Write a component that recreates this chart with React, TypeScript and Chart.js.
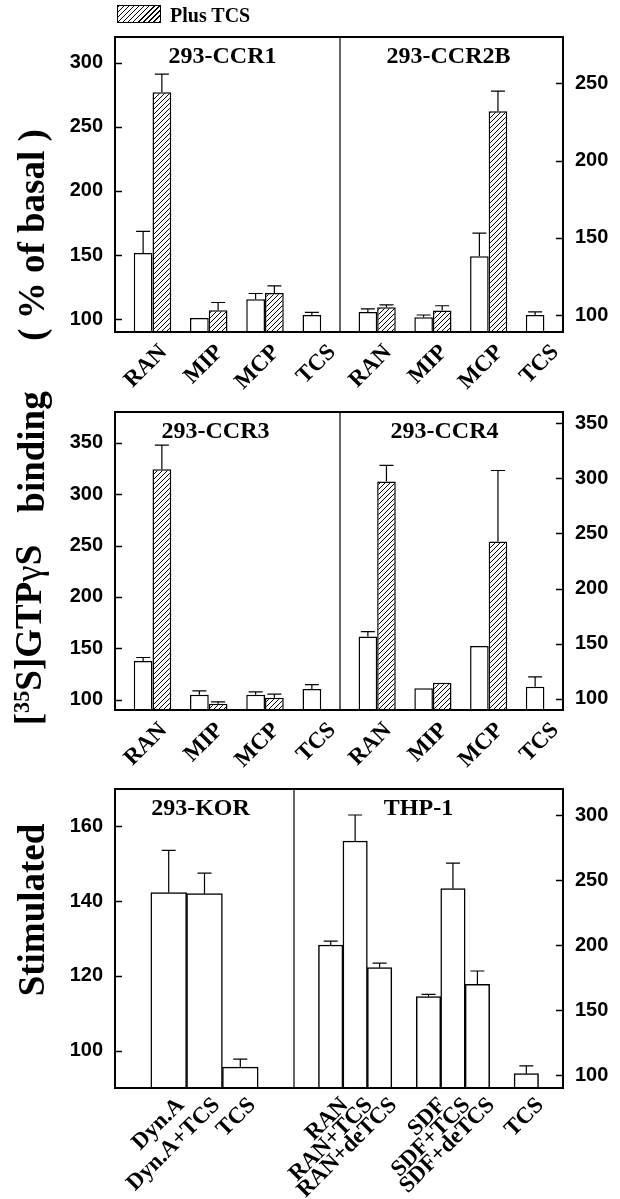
import React, { useEffect, useRef } from 'react';
import { Chart, registerables } from 'chart.js';

Chart.register(...registerables);

// ---------------- DATA ----------------
const GROUP_CATEGORIES = ['RAN', 'MIP', 'MCP', 'TCS'];

const CCR1_BASAL = [151.5, 101, 115.5, 103.3];
const CCR1_BASAL_ERR = [17, 0, 4.5, 2];
const CCR1_TCS = [277, 107, 120.5, null];
const CCR1_TCS_ERR = [14, 6, 5.5, null];

const CCR2B_BASAL = [102, 98.5, 138, 100];
const CCR2B_BASAL_ERR = [2, 1.5, 15, 2];
const CCR2B_TCS = [105, 103, 232, null];
const CCR2B_TCS_ERR = [1.5, 3, 13, null];

const CCR3_BASAL = [137.6, 104.8, 104.8, 110.5];
const CCR3_BASAL_ERR = [3.5, 3.8, 2.9, 4.2];
const CCR3_TCS = [324.4, 96.2, 102, null];
const CCR3_TCS_ERR = [23.3, 1.8, 3.4, null];

const CCR4_BASAL = [156.6, 109.8, 148, 111];
const CCR4_BASAL_ERR = [4.4, 0, 0, 9];
const CCR4_TCS = [297, 114.8, 242.6, null];
const CCR4_TCS_ERR = [14.7, 0, 64.4, null];

const KOR_CATEGORIES = ['Dyn.A', 'Dyn.A+TCS', 'TCS'];
const KOR_VALUES = [142.3, 142, 95.6];
const KOR_ERR = [11.3, 5.5, 2.1];

const THP_CATEGORIES = ['RAN', 'RAN+TCS', 'RAN+deTCS', '', 'SDF', 'SDF+TCS', 'SDF+deTCS', '', 'TCS'];
const THP_VALUES = [200, 280, 182.6, null, 160.3, 243.4, 169.7, null, 101];
const THP_ERR = [3, 20, 3.4, null, 1.7, 19.6, 10.3, null, 6];

// y-axis tick labels and ranges
const CCR1_TICKS = [100, 150, 200, 250, 300];
const CCR1_RANGE = [90, 320];
const CCR2B_TICKS = [100, 150, 200, 250];
const CCR2B_RANGE = [89, 280];
const CCR3_TICKS = [100, 150, 200, 250, 300, 350];
const CCR3_RANGE = [90, 380];
const CCR4_TICKS = [100, 150, 200, 250, 300, 350];
const CCR4_RANGE = [90, 360];
const KOR_TICKS = [100, 120, 140, 160];
const KOR_RANGE = [90, 170];
const THP_TICKS = [100, 150, 200, 250, 300];
const THP_RANGE = [90, 320];

const PANEL_TITLES = ['293-CCR1', '293-CCR2B', '293-CCR3', '293-CCR4', '293-KOR', 'THP-1'];
const LEGEND_LABEL = 'Plus TCS';

// ---------------- LAYOUT / STYLE ----------------
const PAGE_W = 620;
const PAGE_H = 1199;
const FRAME_L = 115;
const FRAME_R = 563;
const SERIF = '"Liberation Serif", "Times New Roman", serif';
const SANS = '"Liberation Sans", Arial, sans-serif';

function makePattern(ctx) {
  const s = 5;
  const c = document.createElement('canvas');
  c.width = s;
  c.height = s;
  const g = c.getContext('2d');
  g.fillStyle = '#fff';
  g.fillRect(0, 0, s, s);
  g.strokeStyle = '#000';
  g.lineWidth = 1;
  g.beginPath();
  g.moveTo(-1, s + 1);
  g.lineTo(s + 1, -1);
  g.moveTo(-1, 1);
  g.lineTo(1, -1);
  g.moveTo(s - 1, s + 1);
  g.lineTo(s + 1, s - 1);
  g.stroke();
  return ctx.createPattern(c, 'repeat');
}

const decorPlugin = {
  id: 'decor',
  afterDatasetsDraw(chart) {
    const cfg = chart.options.plugins.decor;
    const { ctx, chartArea: a } = chart;
    const y = chart.scales.y;
    ctx.save();
    // error bars
    ctx.strokeStyle = '#000';
    ctx.lineWidth = 1.2;
    chart.data.datasets.forEach((ds, di) => {
      const meta = chart.getDatasetMeta(di);
      meta.data.forEach((bar, i) => {
        const v = ds.data[i].y;
        const e = ds.errors[i];
        if (v == null || !e) return;
        const top = y.getPixelForValue(v + e);
        ctx.beginPath();
        ctx.moveTo(bar.x, bar.y);
        ctx.lineTo(bar.x, top);
        ctx.moveTo(bar.x - 7, top);
        ctx.lineTo(bar.x + 7, top);
        ctx.stroke();
      });
    });
    // frame
    ctx.lineCap = 'square';
    ctx.lineWidth = 2;
    ctx.beginPath();
    if (cfg.side === 'left') {
      ctx.moveTo(a.right, a.top);
      ctx.lineTo(a.left, a.top);
      ctx.lineTo(a.left, a.bottom);
      ctx.lineTo(a.right, a.bottom);
    } else {
      ctx.moveTo(a.left, a.top);
      ctx.lineTo(a.right, a.top);
      ctx.lineTo(a.right, a.bottom);
      ctx.lineTo(a.left, a.bottom);
    }
    ctx.stroke();
    if (cfg.side === 'left') {
      ctx.lineCap = 'butt';
      ctx.lineWidth = 1.2;
      ctx.beginPath();
      ctx.moveTo(a.right, a.top);
      ctx.lineTo(a.right, a.bottom);
      ctx.stroke();
    }
    // inward ticks
    ctx.lineCap = 'butt';
    ctx.lineWidth = 1.5;
    cfg.yTicks.forEach((t) => {
      const py = Math.round(y.getPixelForValue(t)) + 0.5;
      ctx.beginPath();
      if (cfg.side === 'left') {
        ctx.moveTo(a.left, py);
        ctx.lineTo(a.left + 7, py);
      } else {
        ctx.moveTo(a.right - 7, py);
        ctx.lineTo(a.right, py);
      }
      ctx.stroke();
    });
    // panel title
    ctx.fillStyle = '#000';
    ctx.font = 'bold 24px ' + SERIF;
    ctx.textAlign = 'center';
    ctx.textBaseline = 'alphabetic';
    ctx.fillText(cfg.title, (a.left + a.right) / 2 + cfg.titleDx, a.top + 26);
    ctx.restore();
  },
};

function Panel({ cfg }) {
  const ref = useRef(null);
  const isLeft = cfg.side === 'left';
  const padL = isLeft ? 0 : 60;
  const padR = isLeft ? 20 : 0;
  const yAxisW = isLeft ? cfg.frameLeft : PAGE_W - cfg.frameRight;
  const canvasLeft = isLeft ? 0 : cfg.frameLeft - padL;
  const canvasWidth = isLeft ? cfg.frameRight + padR : PAGE_W - canvasLeft;
  const canvasTop = cfg.frameTop - 20;
  const canvasHeight = cfg.frameBottom - cfg.frameTop + 20 + cfg.xAxisH;

  useEffect(() => {
    const canvas = ref.current;
    const ctx = canvas.getContext('2d');
    const pattern = makePattern(ctx);
    const chart = new Chart(canvas, {
      type: 'bar',
      data: {
        datasets: cfg.datasets.map((ds) => ({
          data: ds.values.map((v, i) => ({ x: i, y: v })),
          errors: ds.errors,
          backgroundColor: ds.hatched ? pattern : '#ffffff',
          borderColor: '#000',
          borderWidth: 1.5,
          categoryPercentage: cfg.catPct,
          barPercentage: 1,
          clip: 0,
        })),
      },
      options: {
        animation: false,
        responsive: false,
        devicePixelRatio: 1,
        events: [],
        layout: { padding: { top: 20, bottom: 0, left: padL, right: padR } },
        plugins: {
          legend: { display: false },
          tooltip: { enabled: false },
          decor: { side: cfg.side, yTicks: cfg.yTicks, title: cfg.title, titleDx: cfg.titleDx },
        },
        scales: {
          x: {
            type: 'linear',
            position: 'bottom',
            min: cfg.xMin,
            max: cfg.xMax,
            bounds: 'data',
            offset: false,
            grid: { display: false, drawTicks: false },
            border: { display: false },
            afterBuildTicks: (s) => {
              s.ticks = cfg.categories
                .map((c, i) => ({ value: i }))
                .filter((t) => cfg.categories[t.value] !== '');
            },
            afterFit: (s) => {
              s.height = cfg.xAxisH;
            },
            ticks: {
              autoSkip: false,
              minRotation: 45,
              maxRotation: 45,
              labelOffset: cfg.labelOffset,
              padding: cfg.labelPad,
              color: '#000',
              font: { family: SERIF, size: 23, weight: 'bold' },
              callback: (v) => cfg.categories[v] ?? '',
            },
          },
          y: {
            type: 'linear',
            position: cfg.side,
            min: cfg.yRange[0],
            max: cfg.yRange[1],
            bounds: 'data',
            grid: { display: false, drawTicks: false },
            border: { display: false },
            afterBuildTicks: (s) => {
              s.ticks = cfg.yTicks.map((v) => ({ value: v }));
            },
            afterFit: (s) => {
              s.width = yAxisW;
            },
            ticks: {
              padding: 12,
              color: '#000',
              font: { family: SANS, size: 20, weight: 'bold' },
              callback: (v) => String(v),
            },
          },
        },
      },
      plugins: [decorPlugin],
    });
    return () => chart.destroy();
  }, []);

  return (
    <canvas
      ref={ref}
      width={canvasWidth}
      height={canvasHeight}
      style={{ position: 'absolute', left: canvasLeft, top: canvasTop, width: canvasWidth, height: canvasHeight }}
    />
  );
}

const ROWS = [
  { top: 33, bottom: 332, split: 340, xAxisH: 70 },
  { top: 408, bottom: 710, split: 340, xAxisH: 70 },
  { top: 785, bottom: 1088, split: 294, xAxisH: 111 },
];

function groupPanel(side, row, title, titleDx, basal, basalErr, tcs, tcsErr, ticks, range) {
  const r = ROWS[row];
  return {
    side,
    title,
    titleDx,
    categories: GROUP_CATEGORIES,
    xMin: -2 / 3,
    xMax: GROUP_CATEGORIES.length - 1 + 1 / 3,
    catPct: 2 / 3,
    datasets: [
      { values: basal, errors: basalErr, hatched: false },
      { values: tcs, errors: tcsErr, hatched: true },
    ],
    yTicks: ticks,
    yRange: range,
    frameLeft: side === 'left' ? FRAME_L : r.split,
    frameRight: side === 'left' ? r.split : FRAME_R,
    frameTop: r.top,
    frameBottom: r.bottom,
    xAxisH: r.xAxisH,
    labelOffset: 11,
    labelPad: 7,
  };
}

const PANELS = [
  groupPanel('left', 0, PANEL_TITLES[0], -5, CCR1_BASAL, CCR1_BASAL_ERR, CCR1_TCS, CCR1_TCS_ERR, CCR1_TICKS, CCR1_RANGE),
  groupPanel('right', 0, PANEL_TITLES[1], -3, CCR2B_BASAL, CCR2B_BASAL_ERR, CCR2B_TCS, CCR2B_TCS_ERR, CCR2B_TICKS, CCR2B_RANGE),
  groupPanel('left', 1, PANEL_TITLES[2], -12, CCR3_BASAL, CCR3_BASAL_ERR, CCR3_TCS, CCR3_TCS_ERR, CCR3_TICKS, CCR3_RANGE),
  groupPanel('right', 1, PANEL_TITLES[3], -7, CCR4_BASAL, CCR4_BASAL_ERR, CCR4_TCS, CCR4_TCS_ERR, CCR4_TICKS, CCR4_RANGE),
  {
    side: 'left',
    title: PANEL_TITLES[4],
    titleDx: -4,
    categories: KOR_CATEGORIES,
    xMin: -1.5,
    xMax: KOR_CATEGORIES.length - 1 + 1.5,
    catPct: 1,
    datasets: [{ values: KOR_VALUES, errors: KOR_ERR, hatched: false }],
    yTicks: KOR_TICKS,
    yRange: KOR_RANGE,
    frameLeft: FRAME_L,
    frameRight: ROWS[2].split,
    frameTop: ROWS[2].top,
    frameBottom: ROWS[2].bottom,
    xAxisH: ROWS[2].xAxisH,
    labelOffset: 12,
    labelPad: 4,
  },
  {
    side: 'right',
    title: PANEL_TITLES[5],
    titleDx: -10,
    categories: THP_CATEGORIES,
    xMin: -1.5,
    xMax: THP_CATEGORIES.length - 1 + 1.5,
    catPct: 1,
    datasets: [{ values: THP_VALUES, errors: THP_ERR, hatched: false }],
    yTicks: THP_TICKS,
    yRange: THP_RANGE,
    frameLeft: ROWS[2].split,
    frameRight: FRAME_R,
    frameTop: ROWS[2].top,
    frameBottom: ROWS[2].bottom,
    xAxisH: ROWS[2].xAxisH,
    labelOffset: 14,
    labelPad: 4,
  },
];

const Y_TITLE_PARTS = [
  { cy: 235, node: '( % of basal )' },
  { cy: 452, node: 'binding' },
  {
    cy: 635,
    node: (
      <>
        [<span style={{ fontSize: '0.6em', position: 'relative', top: '-0.55em' }}>35</span>S]GTP
        <span style={{ fontWeight: 400 }}>γ</span>S
      </>
    ),
  },
  { cy: 910, node: 'Stimulated' },
];

export default function App() {
  return (
    <div
      style={{
        position: 'absolute',
        left: 0,
        top: 0,
        width: PAGE_W,
        height: PAGE_H,
        background: '#fff',
        overflow: 'hidden',
      }}
    >
      {PANELS.map((p, i) => (
        <Panel key={i} cfg={p} />
      ))}
      {/* legend */}
      <div
        style={{
          position: 'absolute',
          left: 117,
          top: 5,
          width: 42,
          height: 16,
          border: '1.5px solid #000',
          background: 'repeating-linear-gradient(135deg, #000 0px, #000 1px, #fff 1px, #fff 3.6px)',
        }}
      />
      <div
        style={{
          position: 'absolute',
          left: 170,
          top: 5,
          font: 'bold 20px ' + SERIF,
          lineHeight: '20px',
          whiteSpace: 'nowrap',
          color: '#000',
        }}
      >
        {LEGEND_LABEL}
      </div>
      {/* rotated y-axis title */}
      {Y_TITLE_PARTS.map((t, i) => (
        <div
          key={i}
          style={{
            position: 'absolute',
            left: 31,
            top: t.cy,
            transform: 'translate(-50%, -50%) rotate(-90deg)',
            font: 'bold 37px ' + SERIF,
            lineHeight: '37px',
            whiteSpace: 'nowrap',
            color: '#000',
          }}
        >
          {t.node}
        </div>
      ))}
    </div>
  );
}
